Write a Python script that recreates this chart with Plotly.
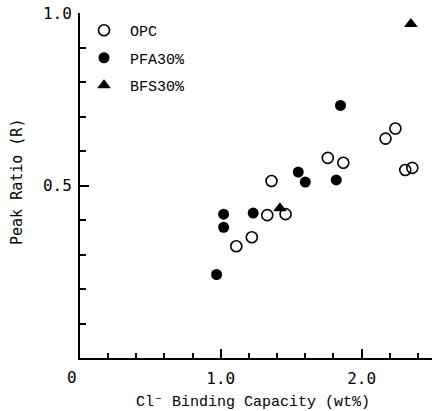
import plotly.graph_objects as go

# Data
opc_x = [1.11, 1.22, 1.33, 1.46, 1.36, 1.76, 1.87, 2.17, 2.24, 2.31, 2.36]
opc_y = [0.324, 0.350, 0.414, 0.417, 0.513, 0.580, 0.566, 0.636, 0.665, 0.545, 0.551]

pfa_x = [0.97, 1.02, 1.02, 1.23, 1.55, 1.60, 1.82, 1.85]
pfa_y = [0.242, 0.379, 0.417, 0.420, 0.539, 0.510, 0.516, 0.732]

bfs_x = [1.42, 2.35]
bfs_y = [0.434, 0.968]

x_tickvals = [1.0, 2.0]
x_ticktext = ["1.0", "2.0"]
y_tickvals = [0.5, 1.0]
y_ticktext = ["0.5", "1.0"]

MONO_SERIF = "Liberation Mono, Courier New, monospace"
MONO_SANS = "DejaVu Sans Mono, monospace"

W, H = 432, 411
l, r, t, b = 80, 0, 13, 53
pw, ph = W - l - r, H - t - b


def px_to_paper(px, py):
    return (px - l) / pw, (H - b - py) / ph


fig = go.Figure()
fig.add_trace(go.Scatter(
    x=opc_x, y=opc_y, mode="markers", name="OPC", legendgroup="a",
    marker=dict(symbol="circle-open", size=11, color="black", line=dict(width=1.6, color="black")),
))
fig.add_trace(go.Scatter(
    x=pfa_x, y=pfa_y, mode="markers", name="PFA30%", legendgroup="b",
    marker=dict(symbol="circle", size=11, color="black"),
))
fig.add_trace(go.Scatter(
    x=bfs_x, y=bfs_y, mode="markers", name="BFS30%", legendgroup="c",
    marker=dict(symbol="triangle-up", size=12, color="black"),
))

lx, ly = px_to_paper(78, 14)

ax0, ay0 = px_to_paper(72, 377)
axt, ayt = px_to_paper(253, 402)
ayx, ayy = px_to_paper(17, 182)

fig.update_layout(
    width=W, height=H,
    margin=dict(l=l, r=r, t=t, b=b, autoexpand=False),
    paper_bgcolor="white", plot_bgcolor="white",
    showlegend=True,
    legend=dict(
        x=lx, y=ly, xanchor="left", yanchor="top",
        xref="paper", yref="paper",
        bgcolor="rgba(0,0,0,0)",
        font=dict(family=MONO_SERIF, size=15, color="black"),
        traceorder="grouped", tracegroupgap=5,
        itemwidth=42,
    ),
    xaxis=dict(
        range=[0, 2.5], showgrid=False, zeroline=False,
        showline=True, linecolor="black", linewidth=2,
        ticks="inside", ticklen=9, tickwidth=1.5, tickcolor="black",
        tickvals=x_tickvals, ticktext=x_ticktext,
        tickfont=dict(family=MONO_SANS, size=16, color="black"),
        minor=dict(dtick=0.2, tick0=0, ticks="inside", ticklen=5, tickwidth=1.5, tickcolor="black"),
        ticklabelstandoff=5,
    ),
    yaxis=dict(
        range=[0, 1.0], showgrid=False, zeroline=False,
        showline=True, linecolor="black", linewidth=2,
        ticks="inside", ticklen=9, tickwidth=1.5, tickcolor="black",
        tickvals=y_tickvals, ticktext=y_ticktext,
        tickfont=dict(family=MONO_SANS, size=16, color="black"),
        minor=dict(dtick=0.1, tick0=0, ticks="inside", ticklen=6, tickwidth=1.5, tickcolor="black"),
        ticklabelstandoff=3,
    ),
    annotations=[
        dict(text="0", x=ax0, y=ay0, xref="paper", yref="paper", showarrow=False,
             xanchor="center", yanchor="middle",
             font=dict(family=MONO_SANS, size=16, color="black")),
        dict(text="Cl\u207b Binding Capacity (wt%)", x=axt, y=ayt, xref="paper", yref="paper",
             showarrow=False, xanchor="center", yanchor="middle",
             font=dict(family=MONO_SERIF, size=15, color="black")),
        dict(text="Peak Ratio (R)", x=ayx, y=ayy, xref="paper", yref="paper",
             showarrow=False, xanchor="center", yanchor="middle", textangle=-90,
             font=dict(family=MONO_SANS, size=15, color="black")),
    ],
)

fig.write_html(
    "out.html",
    config={"displayModeBar": False},
    post_script="document.body.style.margin='0';document.body.style.padding='0';",
)
